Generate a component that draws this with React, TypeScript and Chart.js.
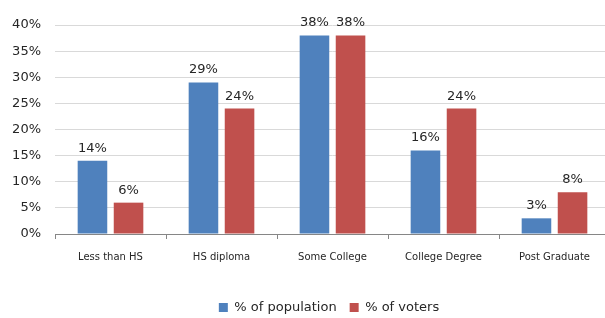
import React, { useEffect, useRef } from "react";
import { Chart, registerables } from "chart.js";

Chart.register(...registerables);

const categories = ["Less than HS", "HS diploma", "Some College", "College Degree", "Post Graduate"];
const populationPct = [14, 29, 38, 16, 3];
const votersPct = [6, 24, 38, 24, 8];
const seriesNames = ["% of population", "% of voters"];

const FONT = "'DejaVu Sans', sans-serif";

const valueLabels = {
  id: "valueLabels",
  afterDatasetsDraw(chart: any) {
    const ctx = chart.ctx;
    ctx.save();
    ctx.font = `13px ${FONT}`;
    ctx.fillStyle = "#262626";
    ctx.textAlign = "center";
    ctx.textBaseline = "alphabetic";
    chart.data.datasets.forEach((ds: any, di: number) => {
      const meta = chart.getDatasetMeta(di);
      meta.data.forEach((el: any, i: number) => {
        ctx.fillText(ds.data[i] + "%", el.x, el.y - 9);
      });
    });
    ctx.restore();
  },
};

// The original chart is wider than the visible crop, so its legend sits right of the visible centre.
const legendShift = {
  id: "legendShift",
  afterLayout(chart: any) {
    if (chart.legend) {
      chart.legend.left += 24;
      chart.legend.right += 24;
    }
  },
};

export default function App() {
  const ref = useRef<HTMLCanvasElement | null>(null);
  useEffect(() => {
    document.body.style.overflow = "hidden";
    const chart = new Chart(ref.current!, {
      type: "bar",
      data: {
        labels: categories,
        datasets: [
          { label: seriesNames[0], data: populationPct, backgroundColor: "#4F81BD", barPercentage: 0.82, categoryPercentage: 0.65 },
          { label: seriesNames[1], data: votersPct, backgroundColor: "#C0504D", barPercentage: 0.82, categoryPercentage: 0.65 },
        ],
      },
      options: {
        animation: false,
        responsive: true,
        maintainAspectRatio: false,
        layout: { padding: { top: 25, left: 0, right: 10, bottom: 0 } },
        plugins: {
          tooltip: { enabled: false },
          title: { display: false },
          legend: {
            position: "bottom",
            labels: {
              boxWidth: 9,
              boxHeight: 9,
              padding: 13,
              color: "#262626",
              font: { family: FONT, size: 13 },
            },
          },
        },
        scales: {
          x: {
            grid: { drawOnChartArea: false, drawTicks: true, tickLength: 5, color: "#868686", offset: true },
            border: { color: "#868686" },
            ticks: { color: "#262626", font: { family: FONT, size: 10 }, padding: 12, maxRotation: 0 },
            afterFit: (s: any) => { s.height = 54; },
          },
          y: {
            min: 0,
            max: 40,
            ticks: {
              stepSize: 5,
              color: "#262626",
              font: { family: FONT, size: 13 },
              padding: 14,
              callback: (v: any) => v + "%",
            },
            grid: { color: "#d9d9d9", drawTicks: false },
            border: { display: false },
            afterFit: (s: any) => { s.width = 55; },
          },
        },
      },
      plugins: [valueLabels, legendShift],
    });
    return () => chart.destroy();
  }, []);
  return (
    <div style={{ position: "fixed", left: 0, top: 0, width: 620, height: 324 }}>
      <canvas ref={ref} />
    </div>
  );
}
